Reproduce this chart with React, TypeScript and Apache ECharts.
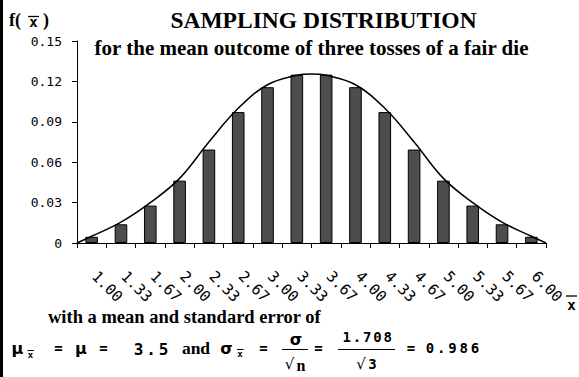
import React, { useEffect, useRef } from "react";
import * as echarts from "echarts";

// Sample means of three tosses of a fair die
const categories = [
  "1.00", "1.33", "1.67", "2.00", "2.33", "2.67", "3.00", "3.33",
  "3.67", "4.00", "4.33", "4.67", "5.00", "5.33", "5.67", "6.00",
];
const probabilities = [
  0.0046, 0.0139, 0.0278, 0.0463, 0.0694, 0.0972, 0.1157, 0.125,
  0.125, 0.1157, 0.0972, 0.0694, 0.0463, 0.0278, 0.0139, 0.0046,
];

// Approximating normal curve (x position on the mean scale, height)
const curveX = [
  0.8333, 1.0, 1.3333, 1.6667, 2.0, 2.3333, 2.6667, 3.0, 3.3333, 3.5,
  3.6667, 4.0, 4.3333, 4.6667, 5.0, 5.3333, 5.6667, 6.0, 6.1667,
];
const curveY = [
  0, 0.005, 0.0155, 0.030, 0.048, 0.075, 0.100, 0.1175, 0.1245, 0.1255,
  0.1245, 0.1175, 0.100, 0.075, 0.048, 0.030, 0.0155, 0.005, 0,
];

const yTicks = { min: 0, max: 0.15, interval: 0.03 };

const SERIF = "'Liberation Serif', 'Times New Roman', serif";
const MONO = "'DejaVu Sans Mono', monospace";
const SANS = "'DejaVu Sans', sans-serif";

type El = Record<string, unknown>;

function txt(text: string, x: number, y: number, font: string, align = "center"): El {
  return {
    type: "text",
    x,
    y,
    silent: true,
    style: { text, font, fill: "#000", textAlign: align, textVerticalAlign: "middle" },
  };
}

function bar(x1: number, x2: number, y: number, w = 1): El {
  return {
    type: "line",
    silent: true,
    shape: { x1, y1: y, x2, y2: y },
    style: { stroke: "#000", lineWidth: w },
  };
}

// Characters laid out on a fixed pitch (wide typewriter spacing)
function spaced(text: string, x0: number, pitch: number, y: number, font: string): El[] {
  return text.split("").map((c, i) => txt(c, x0 + i * pitch, y, font));
}

function buildGraphics(): El[] {
  const els: El[] = [];
  // left frame edge
  els.push({ type: "rect", silent: true, shape: { x: 0, y: 0, width: 3, height: 377 }, style: { fill: "#000" } });

  // titles
  els.push(txt("SAMPLING DISTRIBUTION", 323.5, 20, `bold 23.5px ${SERIF}`));
  els.push(txt("for the mean outcome of three tosses of a fair die", 311.5, 48, `bold 21px ${SERIF}`));

  // y axis name f(x̄)
  els.push(txt("f(", 9, 20, `bold 18px ${SERIF}`, "left"));
  els.push(txt("x", 33.5, 22, `bold 14px ${MONO}`));
  els.push(bar(28, 39, 16.5, 1.3));
  els.push(txt(")", 43, 20, `bold 18px ${SERIF}`, "left"));

  // x axis name x̄
  els.push(txt("x", 571.5, 305, `bold 14px ${MONO}`));
  els.push(bar(566, 577, 296, 1.3));

  // caption
  els.push(txt("with a mean and standard error of", 48, 317, `bold 18.5px ${SERIF}`, "left"));

  // μx̄ = μ = 3.5
  const greek = `bold 16px ${SANS}`;
  const eq = `bold 14px ${MONO}`;
  els.push(txt("μ", 17.5, 348, greek));
  els.push(txt("x", 30.5, 355, `bold 9px ${MONO}`));
  els.push(bar(27.5, 34, 350.5, 1));
  els.push(txt("=", 58.5, 348, eq));
  els.push(txt("μ", 81, 348, greek));
  els.push(txt("=", 103.5, 348, eq));
  els.push(...spaced("3.5", 138.5, 12.5, 349, `bold 16px ${MONO}`));
  els.push(txt("and", 196, 348, `bold 17.5px ${SERIF}`));

  // σx̄ = σ/√n = 1.708/√3 = 0.986
  els.push(txt("σ", 226.5, 348, greek));
  els.push(txt("x", 240, 354, `bold 9px ${MONO}`));
  els.push(bar(237, 243.5, 349.5, 1));
  els.push(txt("=", 263.5, 348, eq));
  els.push(txt("σ", 296, 339, greek));
  els.push(bar(282, 308, 349.5, 1));
  els.push(txt("√", 289.5, 364, `15px ${SANS}`));
  els.push(txt("n", 301, 365, `bold 16px ${SERIF}`));
  els.push(txt("=", 318.5, 348, eq));
  els.push(...spaced("1.708", 346.7, 10.25, 337, `bold 14px ${MONO}`));
  els.push(bar(338, 395, 349.5, 1));
  els.push(txt("√", 361, 364, `15px ${SANS}`));
  els.push(txt("3", 372.5, 364, `bold 14px ${MONO}`));
  els.push(txt("=", 411, 348, eq));
  els.push(...spaced("0.986", 430, 11.25, 348, `bold 14px ${MONO}`));
  return els;
}

export default function App() {
  const ref = useRef<HTMLDivElement>(null);

  useEffect(() => {
    document.body.style.margin = "0";
    if (!ref.current) return;
    const chart = echarts.init(ref.current, undefined, { renderer: "svg" });
    chart.setOption({
      animation: false,
      backgroundColor: "#fff",
      grid: { left: 77, right: 33, top: 41, bottom: 134, containLabel: false, outerBoundsMode: "none" },
      xAxis: [
        {
          type: "category",
          data: categories,
          boundaryGap: true,
          axisLine: { show: true, lineStyle: { color: "#000", width: 1 } },
          axisTick: { show: true, alignWithLabel: false, inside: false, length: 5, lineStyle: { color: "#000" } },
          axisLabel: {
            rotate: -45,
            margin: 28,
            padding: [0, 0, 0, 4],
            interval: 0,
            color: "#000",
            fontFamily: MONO,
            fontSize: 15,
          },
          splitLine: { show: false },
        },
        {
          type: "value",
          min: curveX[0],
          max: curveX[curveX.length - 1],
          show: false,
          splitLine: { show: false },
        },
      ],
      yAxis: {
        type: "value",
        min: yTicks.min,
        max: yTicks.max,
        interval: yTicks.interval,
        axisLine: { show: true, lineStyle: { color: "#000", width: 1 } },
        axisTick: { show: true, inside: false, length: 5, lineStyle: { color: "#000" } },
        axisLabel: {
          margin: 15,
          color: "#000",
          fontFamily: MONO,
          fontSize: 13,
          formatter: (v: number) => (v === 0 ? "0" : v.toFixed(2)),
        },
        splitLine: { show: false },
      },
      series: [
        {
          type: "bar",
          xAxisIndex: 0,
          yAxisIndex: 0,
          data: probabilities,
          barWidth: "43%",
          itemStyle: { color: "#4d4d4d", borderColor: "#000", borderWidth: 1 },
        },
        {
          type: "line",
          xAxisIndex: 1,
          yAxisIndex: 0,
          data: curveX.map((x, i) => [x, curveY[i]]),
          smooth: 0.4,
          showSymbol: false,
          symbol: "none",
          lineStyle: { color: "#000", width: 1.5 },
          z: 3,
        },
      ],
      graphic: buildGraphics(),
    });
    return () => chart.dispose();
  }, []);

  return <div ref={ref} style={{ width: 579, height: 377 }} />;
}
